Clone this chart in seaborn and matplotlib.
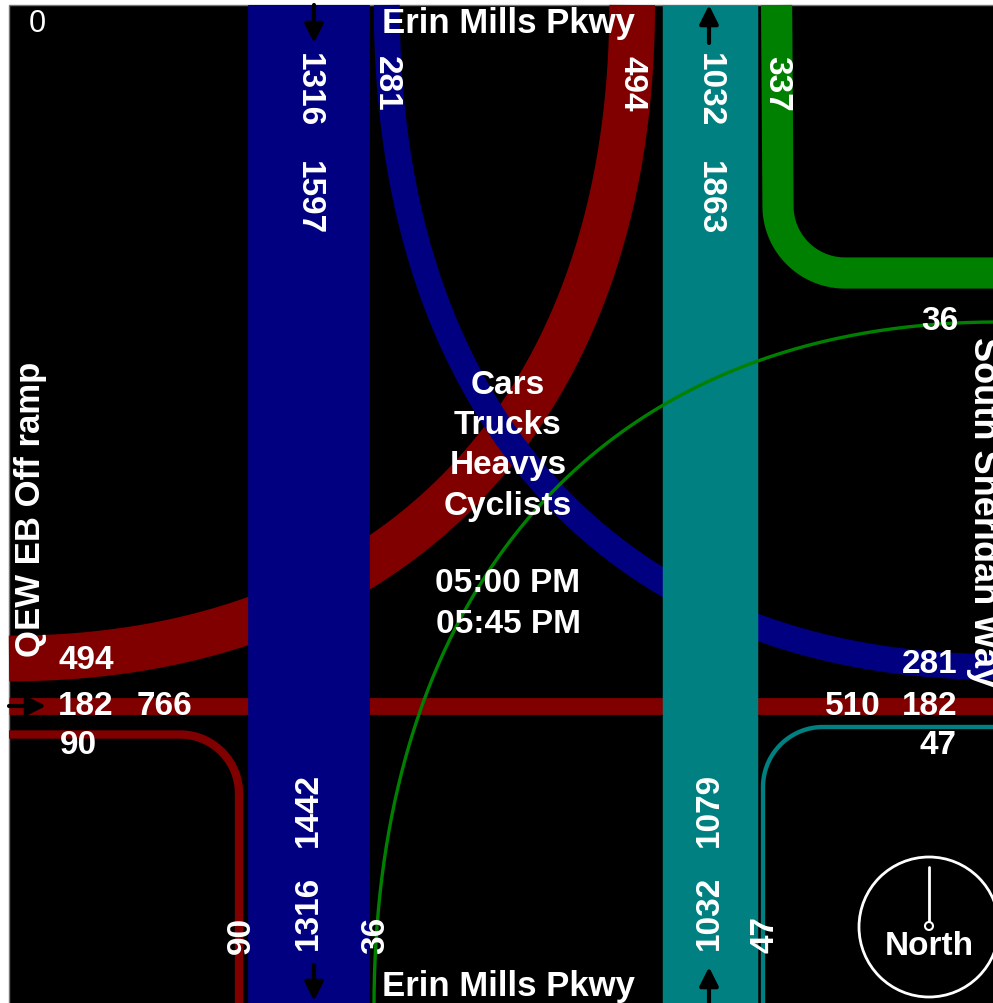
import numpy as np
import pandas as pd
import matplotlib
matplotlib.use("Agg")
import matplotlib.pyplot as plt
from matplotlib.patches import Rectangle, Circle
import seaborn as sns

sns.set_style("white")
plt.rcParams["font.family"] = ["Liberation Sans", "DejaVu Sans"]

# canvas in pixels
W, H = 993, 1004
LEFT, TOP = 9, 6
PT = 0.72          # points per pixel at dpi 100
SCALE = 0.0925     # band width (px) per vehicle
K = 0.62           # bezier handle factor for the crossing turns

# turning movement counts (vehicles)
movements = ["SB_T", "SB_L", "NB_T", "NB_R", "EB_L", "EB_T", "EB_R", "WB_R", "WB_L"]
volumes = [1316, 281, 1032, 47, 494, 182, 90, 337, 36]

# leg totals as printed
sb_approach, sb_depart = 1597, 1442
nb_approach, nb_depart = 1079, 1863
eb_approach, eb_depart = 766, 0
wb_depart = 510

street_names = ["Erin Mills Pkwy", "QEW EB Off ramp", "South Sheridan Way"]
class_lines = ["Cars", "Trucks", "Heavys", "Cyclists"]
time_lines = ["05:00 PM", "05:45 PM"]

NAVY, TEAL, MAROON, GREEN = "#000080", "#008080", "#800000", "#008000"
COLORS = {"SB_T": NAVY, "SB_L": NAVY, "NB_T": TEAL, "NB_R": TEAL,
          "EB_L": MAROON, "EB_T": MAROON, "EB_R": MAROON,
          "WB_R": GREEN, "WB_L": GREEN}

vol = dict(zip(movements, volumes))
wid = {m: v * SCALE for m, v in vol.items()}


def bezier(p0, p1, p2, p3, n=300):
    t = np.linspace(0, 1, n)[:, None]
    p0, p1, p2, p3 = map(np.array, (p0, p1, p2, p3))
    pts = ((1 - t) ** 3) * p0 + 3 * ((1 - t) ** 2) * t * p1 + 3 * (1 - t) * t ** 2 * p2 + t ** 3 * p3
    return pts[:, 0], pts[:, 1]


def corner(start, cen, r, a0, a1, end, n=60):
    ang = np.radians(np.linspace(a0, a1, n))
    xs = np.concatenate([[start[0]], cen[0] + r * np.cos(ang), [end[0]]])
    ys = np.concatenate([[start[1]], cen[1] + r * np.sin(ang), [end[1]]])
    return xs, ys


def band(ax, xs, ys, move, z):
    df = pd.DataFrame({"x": xs, "y": ys})
    sns.lineplot(data=df, x="x", y="y", sort=False, estimator=None, ax=ax,
                 color=COLORS[move], linewidth=wid[move] * PT,
                 solid_capstyle="butt", zorder=z, legend=False)


fig = plt.figure(figsize=(W / 100, H / 100), dpi=100, facecolor="white")
ax = fig.add_axes([0, 0, 1, 1])
ax.add_patch(Rectangle((LEFT, TOP), W, H, facecolor="black", edgecolor="#777777", lw=1, zorder=0))

# lane positions
sb_x0 = 248
sb_cx = sb_x0 + wid["SB_T"] / 2
sbl_x = sb_x0 + wid["SB_T"] + 4 + wid["SB_L"] / 2
nb_x0 = 662
nb_cx = nb_x0 + wid["NB_T"] / 2
ebl_x = nb_x0 - 7 - wid["EB_L"] / 2
wbr_x = 761 + wid["WB_R"] / 2
ebl_y, ebt_y, ebr_y = 659.5, 707, 735.5
sbl_y, nbr_y, wbl_y, wbr_y = 668, 728, 323, 274
ebr_x, wbl_x, nbr_x = 239, 374, 763

# crossing turns
xs, ys = bezier((LEFT, ebl_y), (LEFT + K * (ebl_x - LEFT), ebl_y),
                (ebl_x, TOP + K * (ebl_y - TOP)), (ebl_x, TOP))
band(ax, xs, ys, "EB_L", 2)
xs, ys = bezier((sbl_x, TOP), (sbl_x, TOP + K * (sbl_y - TOP)),
                (W - K * (W - sbl_x), sbl_y), (W + 5, sbl_y))
band(ax, xs, ys, "SB_L", 3)

# straight-ish movements
band(ax, [LEFT, W + 5], [ebt_y, ebt_y], "EB_T", 2)
xs, ys = corner((LEFT, ebr_y), (180, ebr_y + 59), 59, 270, 360, (ebr_x, H + 5))
band(ax, xs, ys, "EB_R", 2)
xs, ys = corner((nbr_x, H + 5), (823, nbr_y + 60), 60, 180, 270, (W + 5, nbr_y))
band(ax, xs, ys, "NB_R", 2)
xs, ys = corner((wbr_x, TOP), (845, 207), wbr_y - 207, 180, 90, (W + 5, wbr_y))
band(ax, xs, ys, "WB_R", 2)
xs, ys = bezier((wbl_x, H + 5), (wbl_x, H - K * (H - wbl_y)),
                (W - K * (W - wbl_x), wbl_y), (W + 5, wbl_y))
band(ax, xs, ys, "WB_L", 6)

# through bands on top
band(ax, [sb_cx, sb_cx], [TOP, H + 5], "SB_T", 5)
band(ax, [nb_cx, nb_cx], [TOP, H + 5], "NB_T", 5)

# direction arrows
arr = dict(arrowstyle="-|>", color="black", lw=3, mutation_scale=28, shrinkA=0, shrinkB=0)
for tail, tip in [((314, TOP), (314, 44)), ((314, 966), (314, 1002)),
                  ((709, 44), (709, TOP)), ((709, 1004), (709, 968)),
                  ((LEFT, ebt_y), (46, ebt_y)), ((966, ebt_y), (1002, ebt_y))]:
    ax.annotate("", xy=tip, xytext=tail, arrowprops=arr, zorder=8)

# labels
txt = dict(color="white", fontsize=24, fontweight="bold", ha="center", va="center",
           rotation_mode="anchor", zorder=10)
name = dict(txt, fontsize=25)
ax.text(508, 24, street_names[0], **name)
ax.text(508, 987, street_names[0], **name)
ax.text(31, 509, street_names[1], rotation=90, **name)
ax.text(983, 512, street_names[2], rotation=270, **dict(name, fontsize=26))
for i, s in enumerate(class_lines):
    ax.text(508, 386 + 40 * i, s, **txt)
for i, s in enumerate(time_lines):
    ax.text(508, 584 + 41 * i, s, **txt)

# volumes on the north edge (read downward)
for x, y, v in [(sb_cx, 90, vol["SB_T"]), (sb_cx, 198, sb_approach), (sbl_x, 84, vol["SB_L"]),
                (ebl_x, 84, vol["EB_L"]), (nb_cx, 90, vol["NB_T"]), (nb_cx, 198, nb_depart),
                (wbr_x, 84, vol["WB_R"])]:
    ax.text(x, y, str(v), rotation=270, **txt)
# volumes on the south edge (read upward)
for x, y, v in [(ebr_x + 2, 935, vol["EB_R"]), (sb_cx, 913, vol["SB_T"]), (sb_cx, 810, sb_depart),
                (wbl_x + 2, 935, vol["WB_L"]), (nb_cx, 913, vol["NB_T"]), (nb_cx, 810, nb_approach),
                (nbr_x + 2, 935, vol["NB_R"])]:
    ax.text(x, y, str(v), rotation=90, **txt)
# volumes on the west and east edges
for x, y, v in [(86, 661, vol["EB_L"]), (86, 707, vol["EB_T"]), (165, 707, eb_approach),
                (78, 746, vol["EB_R"]), (930, 665, vol["SB_L"]), (853, 707, wb_depart),
                (930, 707, vol["EB_T"]), (938, 746, vol["NB_R"]), (940, 322, vol["WB_L"])]:
    ax.text(x, y, str(v), **txt)
ax.text(37, 24, str(eb_depart), color="white", fontsize=22, ha="center", va="center", zorder=10)

# north arrow
ax.add_patch(Circle((929, 928), 70, facecolor="none", edgecolor="white", lw=2, zorder=9))
ax.plot([929, 929], [868, 923], color="white", lw=2, zorder=9)
ax.add_patch(Circle((929, 927), 4, facecolor="black", edgecolor="white", lw=1.5, zorder=10))
ax.text(929, 947, "North", **txt)

ax.set_xlim(0, W)
ax.set_ylim(H, 0)
ax.axis("off")
fig.savefig("out.png", dpi=100, facecolor="white")
